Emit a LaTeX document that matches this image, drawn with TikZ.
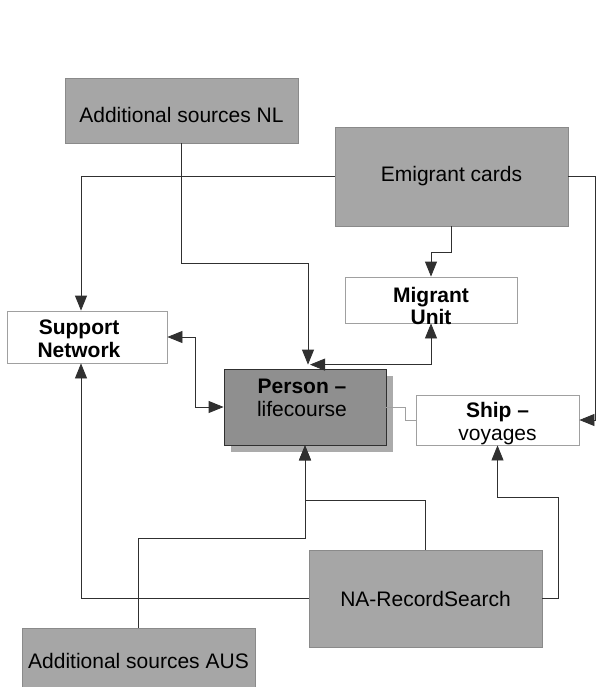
\documentclass[tikz,border=0pt]{standalone}
\usepackage{fontspec}
\setmainfont{Liberation Sans}
\usetikzlibrary{arrows.meta,shadows}

\definecolor{boxgrey}{HTML}{A6A6A6}
\definecolor{boxedge}{HTML}{8A8A8A}
\definecolor{persongrey}{HTML}{8F8F8F}
\definecolor{shadowgrey}{HTML}{ABABAB}
\definecolor{wireline}{HTML}{303030}
\definecolor{paleline}{HTML}{A0A0A0}

\begin{document}
\begin{tikzpicture}[x=1pt, y=-1pt,
  txt/.style={font=\fontsize{21}{22.5}\selectfont, align=center, inner sep=0pt},
  greybox/.style={txt, draw=boxedge, fill=boxgrey, line width=0.8pt},
  whitebox/.style={txt, draw=paleline, fill=white, line width=0.8pt},
  wire/.style={draw=wireline, line width=0.8pt},
  arr/.style={wire, -{Triangle[length=15pt,width=12pt]}},
  arrr/.style={wire, {Triangle[length=15pt,width=12pt]}-{Triangle[length=15pt,width=12pt]}}]
  \useasboundingbox (0,0) rectangle (598,687);

  % Sources
  \node[greybox, minimum width=233, minimum height=65, text height=24pt] (nl) at (181.5,110.5) {Additional sources NL};
  \node[greybox, minimum width=233, minimum height=99] (em) at (451.5,176.5) {Emigrant cards};
  \node[greybox, minimum width=233, minimum height=97] (na) at (425.5,598.5) {NA-RecordSearch};
  \node[greybox, minimum width=233, minimum height=59, text height=22pt] (aus) at (138.5,657.5) {Additional sources AUS};

  % Entities
  \node[whitebox, minimum width=172, minimum height=46,
    label={[txt, yshift=-6]center:{\bfseries Migrant\\\bfseries Unit}}] (mu) at (431,300) {};
  \node[whitebox, minimum width=160, minimum height=52,
    label={[txt, xshift=-8, yshift=-2]center:{\bfseries Support\\\bfseries Network}}] (sn) at (87,337) {};
  \node[txt, draw=wireline, fill=persongrey, line width=0.8pt, minimum width=162, minimum height=76,
    drop shadow={shadow xshift=7pt, shadow yshift=-7pt, fill=shadowgrey, opacity=1},
    label={[txt, xshift=-3, yshift=9]center:{\bfseries Person --\\lifecourse}}] (person) at (305,407) {};
  \node[whitebox, minimum width=163, minimum height=50,
    label={[txt, yshift=-3.5]center:{\bfseries Ship --\\voyages}}] (ship) at (497.5,420) {};

  % Links
  \draw[arr] (nl.south) -- ++(0,120) -| ([xshift=3, yshift=4]person.north);
  \draw[arr] (em.south) -- ++(0,26) -| (mu.north);
  \draw[arr] (em.west) -| ([xshift=-6]sn.north);
  \draw[arr] (em.east) -- ++(27,0) |- (ship.east);
  \draw[arrr] (mu.south) |- ([xshift=5, yshift=4]person.north);
  \draw[arrr] (sn.east) -- ++(28,0) |- (person.west);
  \draw[draw=paleline, line width=0.8pt] (person.east) -- ++(19,0) |- (ship.west);
  \draw[arr] (na.north) -- ++(0,-49) -| (person.south);
  \draw[arr] (aus.north) -- ++(0,-89) -| (person.south);
  \draw[arr] (na.west) -| ([xshift=-6]sn.south);
  \draw[arr] (na.east) -- ++(16,0) -- ++(0,-101.5) -| (ship.south);
\end{tikzpicture}
\end{document}
